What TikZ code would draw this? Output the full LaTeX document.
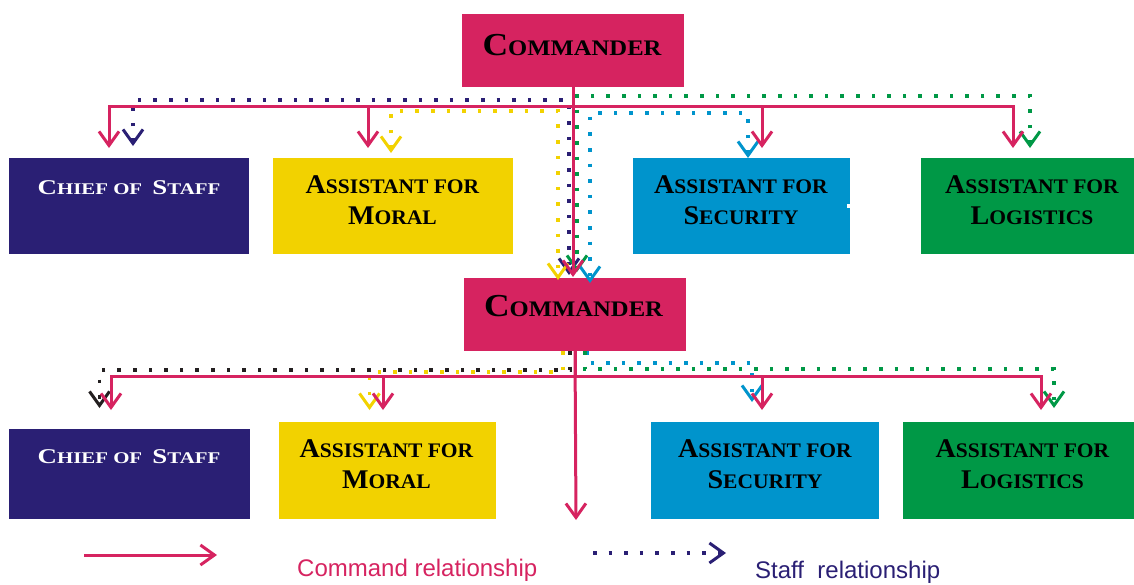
\documentclass[tikz,border=0pt]{standalone}
\usepackage{fontspec}
\usepackage{graphicx}
\setmainfont{Liberation Serif}
\newfontfamily\legendfont{Liberation Sans}
\usetikzlibrary{arrows.meta}

\definecolor{cmdred}{RGB}{214,35,96}
\definecolor{staffnavy}{RGB}{42,31,116}
\definecolor{moralyellow}{RGB}{242,210,0}
\definecolor{secblue}{RGB}{0,148,204}
\definecolor{loggreen}{RGB}{0,152,70}
\definecolor{inkblack}{RGB}{35,31,32}

% small-caps look: full-size initial, reduced capitals after it
\newcommand\capsA[2]{{\fontsize{27pt}{31pt}\selectfont #1}{\fontsize{20.7pt}{31pt}\selectfont #2}}
\newcommand\capsC[2]{{\fontsize{21pt}{25pt}\selectfont #1}{\fontsize{16.3pt}{25pt}\selectfont #2}}
\newcommand\capsM[2]{{\fontsize{32pt}{36pt}\selectfont #1}{\fontsize{22.2pt}{36pt}\selectfont #2}}
\newcommand\asstext[1]{\scalebox{1.04}[1]{#1}}
\newcommand\chieftext{\scalebox{1.28}[1]{\capsC{C}{HIEF OF}\hspace{8pt}\capsC{S}{TAFF}}}
\newcommand\cmdtext{\scalebox{1.11}[1]{\capsM{C}{OMMANDER}}}

\tikzset{
  chev/.tip={Straight Barb[length=14pt,width=20pt,line width=3pt]},
  box/.style={rectangle, draw=none, inner sep=0pt, outer sep=0pt},
  lbl/.style={anchor=base, inner sep=0pt, outer sep=0pt, font=\bfseries},
  cmdline/.style={draw=cmdred, line width=3pt, -chev},
  staffline/.style={draw=#1, line width=3.6pt, dash pattern=on 3.6pt off 12pt},
}

\begin{document}
\begin{tikzpicture}[x=1pt,y=-1pt]
\useasboundingbox (0,0) rectangle (1134,584);

% ---------- boxes ----------
\node[box, fill=cmdred, minimum width=222pt, minimum height=72.5pt] (cmd1) at (573,50.25) {};
\node[box, fill=staffnavy, minimum width=240pt, minimum height=96pt] (chief1) at (129,206) {};
\node[box, fill=moralyellow, minimum width=240pt, minimum height=96pt] (moral1) at (393,206) {};
\node[box, fill=secblue, minimum width=217pt, minimum height=96pt] (sec1) at (741.5,206) {};
\node[box, fill=loggreen, minimum width=213pt, minimum height=96pt] (log1) at (1027.5,206) {};
\fill[white] ([xshift=-3pt,yshift=2pt]sec1.east) rectangle ([xshift=1pt,yshift=-2pt]sec1.east);

\node[box, fill=cmdred, minimum width=222pt, minimum height=73pt] (cmd2) at (575,314.5) {};
\node[box, fill=staffnavy, minimum width=241pt, minimum height=90pt] (chief2) at (129.5,474) {};
\node[box, fill=moralyellow, minimum width=217pt, minimum height=97pt] (moral2) at (387.5,470.5) {};
\node[box, fill=secblue, minimum width=228pt, minimum height=97pt] (sec2) at (765,470.5) {};
\node[box, fill=loggreen, minimum width=231pt, minimum height=97pt] (log2) at (1018.5,470.5) {};

% ---------- labels ----------
\node[lbl] (cmd1t) at (572,55) {\cmdtext};
\node[lbl] (cmd2t) at (573.5,316) {\cmdtext};

\node[lbl, text=white] (chief1t) at (129,194) {\chieftext};
\node[lbl] (moral1a) at (392.5,193) {\asstext{\capsA{A}{SSISTANT FOR}}};
\node[lbl] (moral1b) at (392.5,224) {\asstext{\capsA{M}{ORAL}}};
\node[lbl] (sec1a) at (741,193) {\asstext{\capsA{A}{SSISTANT FOR}}};
\node[lbl] (sec1b) at (741,224) {\asstext{\capsA{S}{ECURITY}}};
\node[lbl] (log1a) at (1032,193) {\asstext{\capsA{A}{SSISTANT FOR}}};
\node[lbl] (log1b) at (1032,224) {\asstext{\capsA{L}{OGISTICS}}};

\node[lbl, text=white] (chief2t) at (129,463) {\chieftext};
\node[lbl] (moral2a) at (386.5,457) {\asstext{\capsA{A}{SSISTANT FOR}}};
\node[lbl] (moral2b) at (386.5,488) {\asstext{\capsA{M}{ORAL}}};
\node[lbl] (sec2a) at (765,457) {\asstext{\capsA{A}{SSISTANT FOR}}};
\node[lbl] (sec2b) at (765,488) {\asstext{\capsA{S}{ECURITY}}};
\node[lbl] (log2a) at (1022.5,457) {\asstext{\capsA{A}{SSISTANT FOR}}};
\node[lbl] (log2b) at (1022.5,488) {\asstext{\capsA{L}{OGISTICS}}};

% ---------- upper staff relationships (dotted) ----------
\draw[staffline=staffnavy, chev-chev] ([xshift=4pt,yshift=12pt]chief1.north) -- ++(0,-46) -| ([xshift=-6pt,yshift=3pt]cmd2.north);
\draw[staffline=moralyellow, chev-chev] ([xshift=-2pt,yshift=5pt]moral1.north) -- ++(0,-42) -| ([xshift=-17pt,yshift=-2pt]cmd2.north);
\draw[staffline=loggreen, chev-chev] ([xshift=2.5pt,yshift=10pt]log1.north) -- ++(0,-52) -| ([xshift=2pt,yshift=6pt]cmd2.north);
\draw[staffline=secblue, chev-chev] ([xshift=6.5pt]sec1.north) -- ++(0,-45) -| ([xshift=15pt,yshift=-5pt]cmd2.north);

% ---------- upper command relationships ----------
\draw[cmdline] (cmd1.south) -- ++(0,19.5) -| ([xshift=-20pt,yshift=10pt]chief1.north);
\draw[cmdline] (cmd1.south) -- ++(0,19.5) -| ([xshift=-25pt,yshift=10pt]moral1.north);
\draw[cmdline] (cmd1.south) -- ++(0,19.5) -| ([xshift=20.5pt,yshift=10pt]sec1.north);
\draw[cmdline] (cmd1.south) -- ++(0,19.5) -| ([xshift=-14.5pt,yshift=10pt]log1.north);
\draw[cmdline] (cmd1.south) -- ([yshift=1pt]cmd1.south |- cmd2.north);

% ---------- lower staff relationships (dotted) ----------
\draw[staffline=inkblack, -chev] ([xshift=-5pt]cmd2.south) -- ++(0,19) -| ([xshift=-30pt,yshift=21pt]chief2.north);
\draw[staffline=moralyellow, -chev] ([xshift=-12pt]cmd2.south) -- ++(0,21) -| ([xshift=-18pt,yshift=12pt]moral2.north);
\draw[staffline=secblue, -chev] ([xshift=12pt]cmd2.south) -- ++(0,12) -| ([xshift=-13pt,yshift=20pt]sec2.north);
\draw[staffline=loggreen, -chev] ([xshift=10pt]cmd2.south) -- ++(0,18) -| ([xshift=35.5pt,yshift=14pt]log2.north);

% ---------- lower command relationships ----------
\coordinate (cmdend) at (576,520);
\draw[cmdline] (cmd2.south) -- ++(0,25) -| ([xshift=-18.5pt,yshift=19pt]chief2.north);
\draw[cmdline] (cmd2.south) -- ++(0,25) -| ([xshift=-4.5pt,yshift=12pt]moral2.north);
\draw[cmdline] (cmd2.south) -- ++(0,25) -| ([xshift=-3pt,yshift=12pt]sec2.north);
\draw[cmdline] (cmd2.south) -- ++(0,25) -| ([xshift=22.5pt,yshift=12pt]log2.north);
\draw[cmdline] (cmd2.south) -- (cmdend);

% ---------- legend ----------
\coordinate (lgc1) at (84,555);
\coordinate (lgc2) at (217,555);
\coordinate (lgs1) at (593,553);
\coordinate (lgs2) at (726,553);
\draw[cmdline] (lgc1) -- (lgc2);
\draw[staffline=staffnavy, -chev] (lgs1) -- (lgs2);
\node[anchor=base west, inner sep=0pt, text=cmdred, font=\legendfont\fontsize{24pt}{28pt}\selectfont] (lgct) at (297,576) {Command relationship};
\node[anchor=base west, inner sep=0pt, text=staffnavy, font=\legendfont\fontsize{24pt}{28pt}\selectfont] (lgst) at (755,578.5) {Staff\ \ relationship};
\end{tikzpicture}
\end{document}
